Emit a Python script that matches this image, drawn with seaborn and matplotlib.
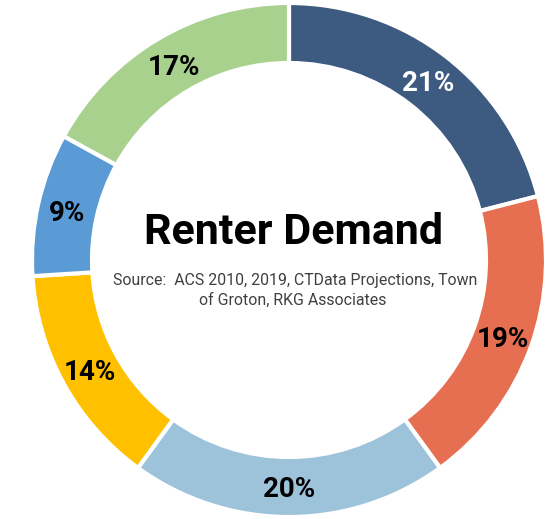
import matplotlib
matplotlib.use("Agg")
import matplotlib.pyplot as plt
import seaborn as sns

# Renter demand shares by segment, clockwise from 12 o'clock
shares = [21, 19, 20, 14, 9, 17]
labels = ["21%", "19%", "20%", "14%", "9%", "17%"]
colors = ["#3D5A80", "#E76F51", "#9DC3DB", "#FFC000", "#5B9BD5", "#A9D18E"]
label_colors = ["white", "black", "black", "black", "black", "black"]

title = "Renter Demand"
source_lines = ["Source:  ACS 2010, 2019, CTData Projections, Town",
                "of Groton, RKG Associates"]

sns.set_theme(style="white")
plt.rcParams["font.family"] = ["Roboto", "DejaVu Sans"]

W, H = 552, 519
fig = plt.figure(figsize=(W / 100, H / 100), dpi=100)
ax = fig.add_axes([0, 0, 1, 1])
cx, cy = 289, 260

R_out, R_in = 257, 197
wedges, texts = ax.pie(
    shares,
    colors=colors,
    radius=R_out,
    startangle=90,
    counterclock=False,
    labels=labels,
    labeldistance=(R_out + R_in) / 2 / R_out,
    wedgeprops=dict(width=R_out - R_in, edgecolor="white", linewidth=3),
    textprops=dict(fontsize=20, fontweight="bold", ha="center", va="center"),
)
for t, c in zip(texts, label_colors):
    t.set_color(c)
    x, y = t.get_position()
    t.set_position((x, y - 3))

# one data unit per pixel, donut centred in the canvas
ax.set_xlim(-cx, W - cx)
ax.set_ylim(-(H - cy), cy)
ax.set_aspect("equal")
ax.axis("off")

ax.text(294 - cx, cy - 232, title, ha="center", va="center", fontsize=31,
        fontweight="bold", color="black")
ax.text(295 - cx, cy - 280, source_lines[0], ha="center", va="center",
        fontsize=11.4, color="#404040")
ax.text(293 - cx, cy - 300, source_lines[1], ha="center", va="center",
        fontsize=11.4, color="#404040")

fig.savefig("out.png", dpi=100)
